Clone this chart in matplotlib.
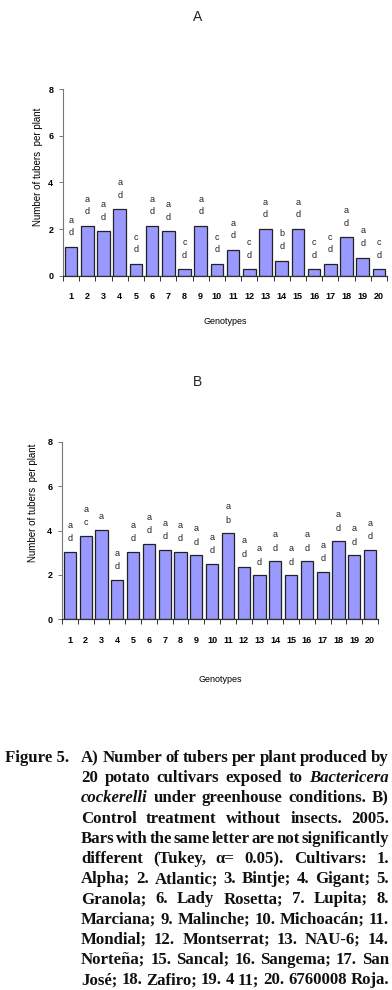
import matplotlib
matplotlib.use("Agg")
import matplotlib.pyplot as plt
from matplotlib.ticker import FixedLocator, NullFormatter
import numpy as np

genotypes = [str(i) for i in range(1, 21)]
tubers_A = [1.25, 2.15, 1.9, 2.85, 0.52, 2.15, 1.9, 0.28, 2.15, 0.52,
            1.12, 0.28, 2.02, 0.65, 2.02, 0.28, 0.52, 1.65, 0.78, 0.28]
letters_A = ["ad", "ad", "ad", "ad", "cd", "ad", "ad", "cd", "ad", "cd",
             "ad", "cd", "ad", "bd", "ad", "cd", "cd", "ad", "ad", "cd"]
tubers_B = [3.02, 3.74, 4.01, 1.76, 3.02, 3.38, 3.11, 3.02, 2.88, 2.48,
            3.87, 2.34, 1.98, 2.61, 1.98, 2.61, 2.12, 3.51, 2.88, 3.11]
letters_B = ["ad", "ac", "a", "ad", "ad", "ad", "ad", "ad", "ad", "ad",
             "ab", "ad", "ad", "ad", "ad", "ad", "ad", "ad", "ad", "ad"]
yticks = [0, 2, 4, 6, 8]

caption_lines = [
    [("A) Number of tubers per plant produced by", "normal")],
    [("20 potato cultivars exposed to", "normal"), ("Bactericera", "italic")],
    [("cockerelli", "italic"), ("under greenhouse conditions. B)", "normal")],
    [("Control treatment without insects. 2005.", "normal")],
    [("Bars with the same letter are not significantly", "normal")],
    [("different (Tukey, \u03b1= 0.05). Cultivars: 1.", "normal")],
    [("Alpha; 2. Atlantic; 3. Bintje; 4. Gigant; 5.", "normal")],
    [("Granola; 6. Lady Rosetta; 7. Lupita; 8.", "normal")],
    [("Marciana; 9. Malinche; 10. Michoac\u00e1n; 11.", "normal")],
    [("Mondial; 12. Montserrat; 13. NAU-6; 14.", "normal")],
    [("Norte\u00f1a; 15. Sancal; 16. Sangema; 17. San", "normal")],
    [("Jos\u00e9; 18. Zafiro; 19. 4 11; 20. 6760008 Roja.", "normal")],
]

W, H = 392, 990
fig = plt.figure(figsize=(W / 100, H / 100), dpi=100)
fig.patch.set_facecolor("white")

NARROW = ["Liberation Sans Narrow", "Liberation Sans", "DejaVu Sans"]
SANS = ["Liberation Sans", "DejaVu Sans"]
BAR_COLOR = "#9999ff"


def px_axes(left, right, top, bottom):
    return fig.add_axes([left / W, 1 - bottom / H, (right - left) / W, (bottom - top) / H])


def draw_panel(ax, values, letters, title, title_y, xlabel_y, ylabel_xy, line_gap):
    x = np.arange(1, len(values) + 1)
    ax.bar(x, values, width=0.77, color=BAR_COLOR, edgecolor="#222222", linewidth=0.9, zorder=2)
    ax.set_xlim(0.5, len(values) + 0.5)
    ax.set_ylim(0, 8)
    for s in ["top", "right"]:
        ax.spines[s].set_visible(False)
    ax.spines["left"].set_color("#777777")
    ax.spines["bottom"].set_color("#333333")
    ax.spines["left"].set_linewidth(0.8)
    ax.spines["bottom"].set_linewidth(0.9)
    ax.xaxis.set_major_locator(FixedLocator(np.arange(0.5, len(values) + 1, 1.0)))
    ax.xaxis.set_major_formatter(NullFormatter())
    ax.xaxis.set_minor_locator(FixedLocator(x))
    ax.set_xticklabels(genotypes, minor=True, fontsize=6.5, family=NARROW, fontweight="bold")
    ax.tick_params(axis="x", which="major", direction="out", length=3.5, width=0.7, color="#333333")
    ax.tick_params(axis="x", which="minor", length=0, pad=12)
    ax.set_yticks(yticks)
    ax.set_yticklabels([str(t) for t in yticks], fontsize=6.5, family=NARROW, fontweight="bold")
    ax.tick_params(axis="y", direction="out", length=3, width=0.7, color="#777777", pad=4)
    for xi, v, lab in zip(x, values, letters):
        for k, ch in enumerate(lab[::-1]):
            ax.text(xi, v + 0.6 + k * line_gap, ch, ha="center", va="center",
                    fontsize=6.5, family=NARROW, color="#222222")
    fig.text(0.5 + 0.005, 1 - title_y / H, title, ha="center", va="center", fontsize=10,
             family=SANS, color="#222222")
    bb = ax.get_position()
    fig.text((bb.x0 + bb.x1) / 2, 1 - xlabel_y / H, "Genotypes", ha="center", va="center",
             fontsize=6.5, family=SANS)
    fig.text(ylabel_xy[0] / W, 1 - ylabel_xy[1] / H, "Number of tubers  per plant", rotation=90,
             ha="center", va="center", fontsize=7, family=SANS)


axA = px_axes(63, 387, 89.3, 275.7)
draw_panel(axA, tubers_A, letters_A, "A", 17, 321, (38, 167), 0.54)
axB = px_axes(62, 378, 441.7, 619.3)
draw_panel(axB, tubers_B, letters_B, "B", 382, 679, (33, 503), 0.6)

# ---- caption with justified lines ----
fig.canvas.draw()
renderer = fig.canvas.get_renderer()
SERIF = ["Liberation Serif", "DejaVu Serif"]


def word_width(word, style, size):
    t = fig.text(0, 0, word, fontsize=size, family=SERIF, fontweight="bold", fontstyle=style)
    w = t.get_window_extent(renderer).width
    t.remove()
    return w


left_px, right_px = 81, 389
target = right_px - left_px
# choose font size so the tightest line fits with very small spaces
ref_words = "Bars with the same letter are not significantly".split()
min_space = 1.5
base = 10.0
nat = sum(word_width(w, "normal", base) for w in ref_words)
size = base * (target - min_space * (len(ref_words) - 1)) / nat

baseline0 = 762
gap = 20.2
for i, segs in enumerate(caption_lines):
    words = []
    for txt, style in segs:
        for w in txt.split():
            words.append((w, style))
    widths = [word_width(w, s, size) for w, s in words]
    space = (target - sum(widths)) / (len(words) - 1)
    xpos = left_px
    y = 1 - (baseline0 + i * gap) / H
    for (w, s), ww in zip(words, widths):
        fig.text(xpos / W, y, w, fontsize=size, family=SERIF, fontweight="bold", fontstyle=s,
                 ha="left", va="baseline", color="#111111")
        xpos += ww + space

fig.text(5 / W, 1 - baseline0 / H, "Figure 5.", fontsize=size, family=SERIF, fontweight="bold",
         ha="left", va="baseline", color="#111111")

fig.savefig("out.png", dpi=100, facecolor="white")
